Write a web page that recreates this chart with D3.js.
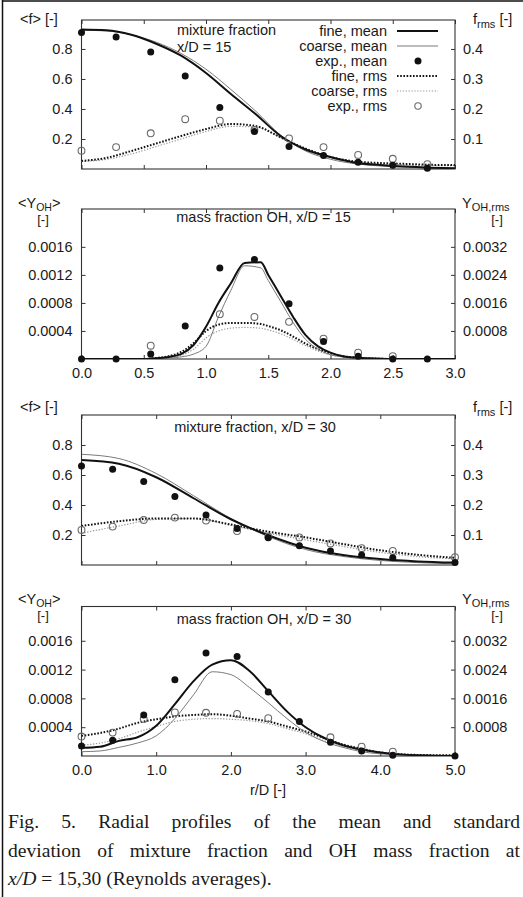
<!DOCTYPE html>
<html>
<head>
<meta charset="utf-8">
<script src="https://cdn.jsdelivr.net/npm/d3@7"></script>
<style>
  body { margin: 0; background: #fff; }
  svg { display: block; }
</style>
</head>
<body>
<script>
/*jshint esversion: 8 */

// ---- mixture fraction, x/D = 15 ----
var r_exp15 = [0, 0.278, 0.556, 0.833, 1.111, 1.389, 1.667, 1.944, 2.222, 2.5, 2.778];
var f15_exp_mean = [0.91, 0.88, 0.78, 0.62, 0.41, 0.25, 0.15, 0.09, 0.045, 0.025, 0.005];
var f15_exp_rms = [0.061, 0.073, 0.119, 0.166, 0.161, 0.13, 0.102, 0.073, 0.047, 0.034, 0.016];
var r_sim15 = [0, 0.2, 0.4, 0.6, 0.8, 1.0, 1.2, 1.4, 1.6, 1.8, 2.0, 2.2, 2.4, 2.6, 2.8, 3.0];
var f15_fine_mean = [0.93, 0.925, 0.895, 0.835, 0.755, 0.64, 0.5, 0.365, 0.22, 0.13, 0.08, 0.042, 0.027, 0.016, 0.009, 0.005];
var f15_coarse_mean = [0.925, 0.92, 0.895, 0.845, 0.77, 0.665, 0.53, 0.385, 0.225, 0.12, 0.065, 0.035, 0.02, 0.012, 0.007, 0.004];
var f15_fine_rms = [0.027, 0.037, 0.06, 0.085, 0.11, 0.133, 0.15, 0.143, 0.105, 0.068, 0.04, 0.025, 0.02, 0.017, 0.014, 0.013];
var f15_coarse_rms = [0.025, 0.032, 0.05, 0.075, 0.1, 0.125, 0.142, 0.14, 0.105, 0.065, 0.037, 0.023, 0.017, 0.014, 0.012, 0.011];

// ---- OH mass fraction, x/D = 15 ----
var oh15_exp_mean = [0, 0, 0.00007, 0.00047, 0.0013, 0.00142, 0.00079, 0.00025, 0.00004, 0, 0];
var r_exp15_ohrms = [0.556, 1.111, 1.389, 1.667, 1.944, 2.222, 2.5];
var oh15_exp_rms = [0.00038, 0.00128, 0.0012, 0.00106, 0.00058, 0.00018, 0.00008];
var r_oh15 = [0, 0.5, 0.6, 0.7, 0.8, 0.9, 1.0, 1.1, 1.2, 1.31, 1.44, 1.5, 1.6, 1.7, 1.8, 1.9, 2.0, 2.1, 2.2, 2.3, 2.5, 3.0];
var oh15_fine_mean = [0, 0, 0.00001, 0.00003, 0.00007, 0.0002, 0.00046, 0.0008, 0.00108, 0.00137, 0.00138, 0.0012, 0.0009, 0.0006, 0.00034, 0.00018, 0.00009, 0.00004, 0.00002, 0.00001, 0, 0];
var oh15_coarse_mean = [0, 0, 0, 0.00001, 0.00003, 0.00007, 0.00018, 0.0006, 0.00098, 0.00133, 0.0013, 0.00112, 0.00082, 0.00052, 0.00028, 0.00014, 0.00006, 0.00003, 0.00001, 0, 0, 0];
var oh15_fine_rms = [0, 0, 0.00003, 0.00008, 0.0002, 0.00045, 0.0008, 0.00098, 0.00103, 0.00103, 0.001, 0.00094, 0.00082, 0.00064, 0.00044, 0.00028, 0.00016, 0.00008, 0.00004, 0.00002, 0, 0];
var oh15_coarse_rms = [0, 0, 0.00001, 0.00004, 0.0001, 0.00028, 0.0006, 0.0008, 0.00088, 0.0009, 0.00088, 0.00083, 0.00072, 0.00056, 0.00038, 0.00023, 0.00012, 0.00006, 0.00003, 0.00001, 0, 0];

// ---- mixture fraction, x/D = 30 ----
var r_exp30 = [0, 0.417, 0.833, 1.25, 1.667, 2.083, 2.5, 2.917, 3.333, 3.75, 4.167, 5.0];
var f30_exp_mean = [0.66, 0.638, 0.556, 0.456, 0.333, 0.244, 0.182, 0.129, 0.093, 0.067, 0.049, 0.016];
var f30_exp_rms = [0.117, 0.128, 0.15, 0.158, 0.148, 0.113, 0.094, 0.092, 0.072, 0.056, 0.047, 0.026];
var r_sim30 = [0, 0.5, 1.0, 1.5, 2.0, 2.5, 3.0, 3.5, 4.0, 4.5, 5.0];
var f30_fine_mean = [0.70, 0.675, 0.585, 0.445, 0.305, 0.198, 0.115, 0.067, 0.04, 0.024, 0.016];
var f30_coarse_mean = [0.738, 0.71, 0.61, 0.462, 0.31, 0.19, 0.103, 0.057, 0.03, 0.016, 0.008];
var f30_fine_rms = [0.13, 0.146, 0.155, 0.155, 0.135, 0.111, 0.092, 0.07, 0.049, 0.034, 0.024];
var f30_coarse_rms = [0.106, 0.13, 0.152, 0.155, 0.132, 0.106, 0.084, 0.062, 0.042, 0.028, 0.02];

// ---- OH mass fraction, x/D = 30 ----
var oh30_exp_mean = [0.00014, 0.00022, 0.00057, 0.00106, 0.00143, 0.00138, 0.00089, 0.00048, 0.00019, 0.00007, 0.00001, 0];
var r_exp30_ohrms = [0, 0.417, 0.833, 1.25, 1.667, 2.083, 2.5, 3.333, 3.75, 4.167];
var oh30_exp_rms = [0.00054, 0.00065, 0.00103, 0.00121, 0.0012, 0.00117, 0.00105, 0.00052, 0.00026, 0.00012];
var r_oh30 = [0, 0.25, 0.5, 0.75, 1.0, 1.25, 1.5, 1.75, 2.0, 2.25, 2.5, 2.75, 3.0, 3.25, 3.5, 3.75, 4.0, 4.5, 5.0];
var oh30_fine_mean = [0.000115, 0.00013, 0.00021, 0.00026, 0.00042, 0.00072, 0.00104, 0.00127, 0.00133, 0.00118, 0.0009, 0.00062, 0.0004, 0.00025, 0.00015, 0.00009, 0.00005, 0.00001, 0];
var oh30_coarse_mean = [0.00006, 0.00007, 0.00012, 0.00018, 0.00028, 0.00052, 0.00085, 0.00117, 0.00113, 0.00095, 0.00074, 0.00052, 0.00033, 0.0002, 0.00012, 0.00006, 0.00003, 0.00001, 0];
var oh30_fine_rms = [0.00056, 0.00064, 0.00076, 0.00092, 0.00102, 0.0011, 0.00114, 0.00116, 0.00112, 0.00104, 0.00096, 0.00082, 0.00068, 0.0005, 0.00032, 0.0002, 0.0001, 0.00003, 0.00002];
var oh30_coarse_rms = [0.0003, 0.00036, 0.00048, 0.00066, 0.00082, 0.00096, 0.00102, 0.00104, 0.00102, 0.00098, 0.0009, 0.00076, 0.00062, 0.00042, 0.00026, 0.00016, 0.00008, 0.00002, 0.00001];

// ---- ticks and labels ----
var f_ticks_left = [0.2, 0.4, 0.6, 0.8];
var f_ticks_right = [0.1, 0.2, 0.3, 0.4];
var oh_ticks_left = [0.0004, 0.0008, 0.0012, 0.0016];
var oh_ticks_right = [0.0008, 0.0016, 0.0024, 0.0032];
var r_ticks15 = [0, 0.5, 1.0, 1.5, 2.0, 2.5, 3.0];
var r_ticks30 = [0, 1, 2, 3, 4, 5];
var legend_labels = ["fine, mean", "coarse, mean", "exp., mean", "fine, rms", "coarse, rms", "exp., rms"];
var caption_lines = [
  "Fig. 5. Radial profiles of the mean and standard",
  "deviation of mixture fraction and OH mass fraction at"
];

var FONT = "'Liberation Sans', Arial, Helvetica, sans-serif";
var SERIF = "'Liberation Serif', 'Times New Roman', serif";
var FS = 14.5;
var TXT = "#1a1a1a";
var plot_left = 81.5, plot_right = 455;

var styles = {
  fine_mean: {stroke: "#111", width: 2, dash: null},
  coarse_mean: {stroke: "#7a7a7a", width: 1, dash: null},
  fine_rms: {stroke: "#111", width: 2, dash: "1.6,1.6"},
  coarse_rms: {stroke: "#9a9a9a", width: 1.2, dash: "1.3,1.6"}
};

window.onload = function() {
  main();
};

var zip = function(xs, ys) {
  return xs.map(function(x, i) { return [x, ys[i]]; });
};

var main = function() {
  var svg = d3.select("body")
    .append("svg")
    .attr("width", 523)
    .attr("height", 897);

  svg.append("rect").attr("width", 523).attr("height", 897).attr("fill", "#fff");

  // page frame (top and left edges only are visible)
  svg.append("line").attr("x1", 2.5).attr("x2", 523).attr("y1", 1).attr("y2", 1)
    .attr("stroke", "#111").attr("stroke-width", 1.5);
  svg.append("line").attr("x1", 2.5).attr("x2", 2.5).attr("y1", 0).attr("y2", 897)
    .attr("stroke", "#111").attr("stroke-width", 1.5);

  draw_panel(svg, {
    id: "p1", top: 20, bottom: 169, xmax: 3, ymax: 0.993, rfac: 0.5,
    xticks: r_ticks15, xlabels: false,
    lticks: f_ticks_left, rticks: f_ticks_right, fmtL: d3.format(".1f"), fmtR: d3.format(".1f"),
    sim_r: r_sim15, fine_mean: f15_fine_mean, coarse_mean: f15_coarse_mean,
    fine_rms: f15_fine_rms, coarse_rms: f15_coarse_rms,
    exp_r: r_exp15, exp_mean: f15_exp_mean, exp_rms_r: r_exp15, exp_rms: f15_exp_rms
  });
  draw_panel(svg, {
    id: "p2", top: 209, bottom: 359, xmax: 3, ymax: 0.00214, rfac: 2,
    xticks: r_ticks15, xlabels: true, fmtX: d3.format(".1f"),
    lticks: oh_ticks_left, rticks: oh_ticks_right, fmtL: d3.format(".4f"), fmtR: d3.format(".4f"),
    sim_r: r_oh15, fine_mean: oh15_fine_mean, coarse_mean: oh15_coarse_mean,
    fine_rms: oh15_fine_rms, coarse_rms: oh15_coarse_rms,
    exp_r: r_exp15, exp_mean: oh15_exp_mean, exp_rms_r: r_exp15_ohrms, exp_rms: oh15_exp_rms
  });
  draw_panel(svg, {
    id: "p3", top: 415, bottom: 565, xmax: 5, ymax: 1.0, rfac: 0.5,
    xticks: r_ticks30, xlabels: false,
    lticks: f_ticks_left, rticks: f_ticks_right, fmtL: d3.format(".1f"), fmtR: d3.format(".1f"),
    sim_r: r_sim30, fine_mean: f30_fine_mean, coarse_mean: f30_coarse_mean,
    fine_rms: f30_fine_rms, coarse_rms: f30_coarse_rms,
    exp_r: r_exp30, exp_mean: f30_exp_mean, exp_rms_r: r_exp30, exp_rms: f30_exp_rms
  });
  draw_panel(svg, {
    id: "p4", top: 606.5, bottom: 756, xmax: 5, ymax: 0.002076, rfac: 2,
    xticks: r_ticks30, xlabels: true, fmtX: d3.format(".1f"),
    lticks: oh_ticks_left, rticks: oh_ticks_right, fmtL: d3.format(".4f"), fmtR: d3.format(".4f"),
    sim_r: r_oh30, fine_mean: oh30_fine_mean, coarse_mean: oh30_coarse_mean,
    fine_rms: oh30_fine_rms, coarse_rms: oh30_coarse_rms,
    exp_r: r_exp30, exp_mean: oh30_exp_mean, exp_rms_r: r_exp30_ohrms, exp_rms: oh30_exp_rms
  });

  // panel titles
  add_text(svg, 177, 35, "mixture fraction");
  add_text(svg, 177, 52, "x/D = 15");
  add_text(svg, 263.5, 222, "mass fraction OH, x/D = 15").attr("text-anchor", "middle");
  add_text(svg, 255, 432, "mixture fraction, x/D = 30").attr("text-anchor", "middle");
  add_text(svg, 264, 624, "mass fraction OH, x/D = 30").attr("text-anchor", "middle");

  // axis titles
  f_labels(svg, 24);
  f_labels(svg, 412);
  oh_labels(svg, 208);
  oh_labels(svg, 604);
  add_text(svg, 268, 795, "r/D [-]").attr("text-anchor", "middle");

  build_legend(svg);
  build_caption(svg);
};

var add_text = function(g, x, y, s) {
  return g.append("text")
    .attr("x", x).attr("y", y)
    .attr("font-family", FONT).attr("font-size", FS)
    .attr("fill", TXT)
    .text(s);
};

var f_labels = function(svg, y) {
  add_text(svg, 20, y, "<f> [-]");
  var t = add_text(svg, 473, y, "f");
  t.append("tspan").attr("dy", 3.5).attr("font-size", 11).text("rms");
  t.append("tspan").attr("dy", -3.5).text(" [-]");
};

var oh_labels = function(svg, y) {
  var t = add_text(svg, 18, y, "<Y");
  t.append("tspan").attr("dy", 3).attr("font-size", 10.5).text("OH");
  t.append("tspan").attr("dy", -3).text(">");
  add_text(svg, 43, y + 16, "[-]").attr("text-anchor", "middle").attr("font-size", 13);
  var t2 = add_text(svg, 462, y, "Y");
  t2.append("tspan").attr("dy", 3).attr("font-size", 11).text("OH,rms");
  add_text(svg, 497, y + 16, "[-]").attr("text-anchor", "middle").attr("font-size", 13);
};

var draw_panel = function(svg, cfg) {
  var x = d3.scaleLinear().domain([0, cfg.xmax]).range([plot_left, plot_right]);
  var yl = d3.scaleLinear().domain([0, cfg.ymax]).range([cfg.bottom, cfg.top]);
  var yr = d3.scaleLinear().domain([0, cfg.ymax * cfg.rfac]).range([cfg.bottom, cfg.top]);

  var g = svg.append("g");

  g.append("clipPath").attr("id", "clip_" + cfg.id)
    .append("rect")
    .attr("x", plot_left).attr("y", cfg.top - 1)
    .attr("width", plot_right - plot_left).attr("height", cfg.bottom - cfg.top + 1);

  // axes, gnuplot style ticks pointing inwards
  var ax_l = d3.axisLeft(yl).tickValues(cfg.lticks).tickSize(-4).tickPadding(9).tickFormat(cfg.fmtL);
  var ax_r = d3.axisRight(yr).tickValues(cfg.rticks).tickSize(-4).tickPadding(8).tickFormat(cfg.fmtR);
  var ax_b = d3.axisBottom(x).tickValues(cfg.xticks).tickSize(-4).tickPadding(8.5)
    .tickFormat(cfg.xlabels ? cfg.fmtX : function() { return ""; });
  var ax_t = d3.axisTop(x).tickValues(cfg.xticks).tickSize(-4).tickFormat(function() { return ""; });

  var axes = [
    g.append("g").attr("transform", "translate(" + plot_left + ",0)").call(ax_l),
    g.append("g").attr("transform", "translate(" + plot_right + ",0)").call(ax_r),
    g.append("g").attr("transform", "translate(0," + cfg.bottom + ")").call(ax_b),
    g.append("g").attr("transform", "translate(0," + cfg.top + ")").call(ax_t)
  ];
  axes.forEach(function(a) {
    a.attr("font-family", FONT).attr("font-size", FS);
    a.select(".domain").remove();
    a.selectAll(".tick line").attr("stroke", "#333").attr("stroke-width", 1);
    a.selectAll(".tick text").attr("fill", TXT);
  });

  g.append("rect")
    .attr("x", plot_left).attr("y", cfg.top)
    .attr("width", plot_right - plot_left).attr("height", cfg.bottom - cfg.top)
    .attr("fill", "none").attr("stroke", "#333").attr("stroke-width", 1.1);

  var plot = g.append("g").attr("clip-path", "url(#clip_" + cfg.id + ")");

  var line_l = d3.line().x(function(d) { return x(d[0]); }).y(function(d) { return yl(d[1]); })
    .curve(d3.curveMonotoneX);
  var line_r = d3.line().x(function(d) { return x(d[0]); }).y(function(d) { return yr(d[1]); })
    .curve(d3.curveMonotoneX);

  var series = [
    {key: "coarse_rms", vals: cfg.coarse_rms, line: line_r},
    {key: "fine_rms", vals: cfg.fine_rms, line: line_r},
    {key: "coarse_mean", vals: cfg.coarse_mean, line: line_l},
    {key: "fine_mean", vals: cfg.fine_mean, line: line_l}
  ];
  series.forEach(function(s) {
    var st = styles[s.key];
    plot.append("path")
      .datum(zip(cfg.sim_r, s.vals))
      .attr("d", s.line)
      .attr("fill", "none")
      .attr("stroke", st.stroke)
      .attr("stroke-width", st.width)
      .attr("stroke-dasharray", st.dash)
      .attr("stroke-linejoin", "round");
  });

  g.selectAll(".rms_pt")
    .data(zip(cfg.exp_rms_r, cfg.exp_rms))
    .enter()
    .append("circle")
    .attr("cx", function(d) { return x(d[0]); })
    .attr("cy", function(d) { return yr(d[1]); })
    .attr("r", 3.4)
    .attr("fill", "none")
    .attr("stroke", "#6a6a6a")
    .attr("stroke-width", 1.1);

  g.selectAll(".mean_pt")
    .data(zip(cfg.exp_r, cfg.exp_mean))
    .enter()
    .append("circle")
    .attr("cx", function(d) { return x(d[0]); })
    .attr("cy", function(d) { return yl(d[1]); })
    .attr("r", 3.5)
    .attr("fill", "#111");
};

var build_legend = function(svg) {
  var kinds = ["fine_mean", "coarse_mean", "pt_mean", "fine_rms", "coarse_rms", "pt_rms"];
  var y = d3.scalePoint().domain(legend_labels).range([31, 106]);
  legend_labels.forEach(function(lab, i) {
    var yy = y(lab);
    add_text(svg, 387, yy + 5, lab).attr("text-anchor", "end");
    var k = kinds[i];
    if (styles[k]) {
      svg.append("line")
        .attr("x1", 397).attr("x2", 438).attr("y1", yy).attr("y2", yy)
        .attr("stroke", styles[k].stroke)
        .attr("stroke-width", styles[k].width)
        .attr("stroke-dasharray", styles[k].dash);
    } else if (k == "pt_mean") {
      svg.append("circle").attr("cx", 418).attr("cy", yy).attr("r", 3.5).attr("fill", "#111");
    } else {
      svg.append("circle").attr("cx", 418).attr("cy", yy).attr("r", 3.2)
        .attr("fill", "none").attr("stroke", "#6a6a6a").attr("stroke-width", 1.1);
    }
  });
};

var build_caption = function(svg) {
  var x0 = 8, x1 = 520;
  var baselines = [828, 856.5, 885];
  var fsz = 19.6;
  // justified lines: place each word, spread the gaps
  caption_lines.forEach(function(line, li) {
    var words = line.split(" ");
    var nodes = words.map(function(w) {
      return svg.append("text")
        .attr("y", baselines[li])
        .attr("font-family", SERIF).attr("font-size", fsz)
        .attr("fill", TXT)
        .text(w);
    });
    var widths = nodes.map(function(n) { return n.node().getComputedTextLength(); });
    var gap = (x1 - x0 - d3.sum(widths)) / (words.length - 1);
    var pos = x0;
    nodes.forEach(function(n, i) {
      n.attr("x", pos);
      pos += widths[i] + gap;
    });
  });
  var last = svg.append("text")
    .attr("x", x0).attr("y", baselines[2])
    .attr("font-family", SERIF).attr("font-size", fsz)
    .attr("fill", TXT);
  last.append("tspan").attr("font-style", "italic").text("x/D");
  last.append("tspan").text(" = 15,30 (Reynolds averages).");
};
</script>
</body>
</html>
